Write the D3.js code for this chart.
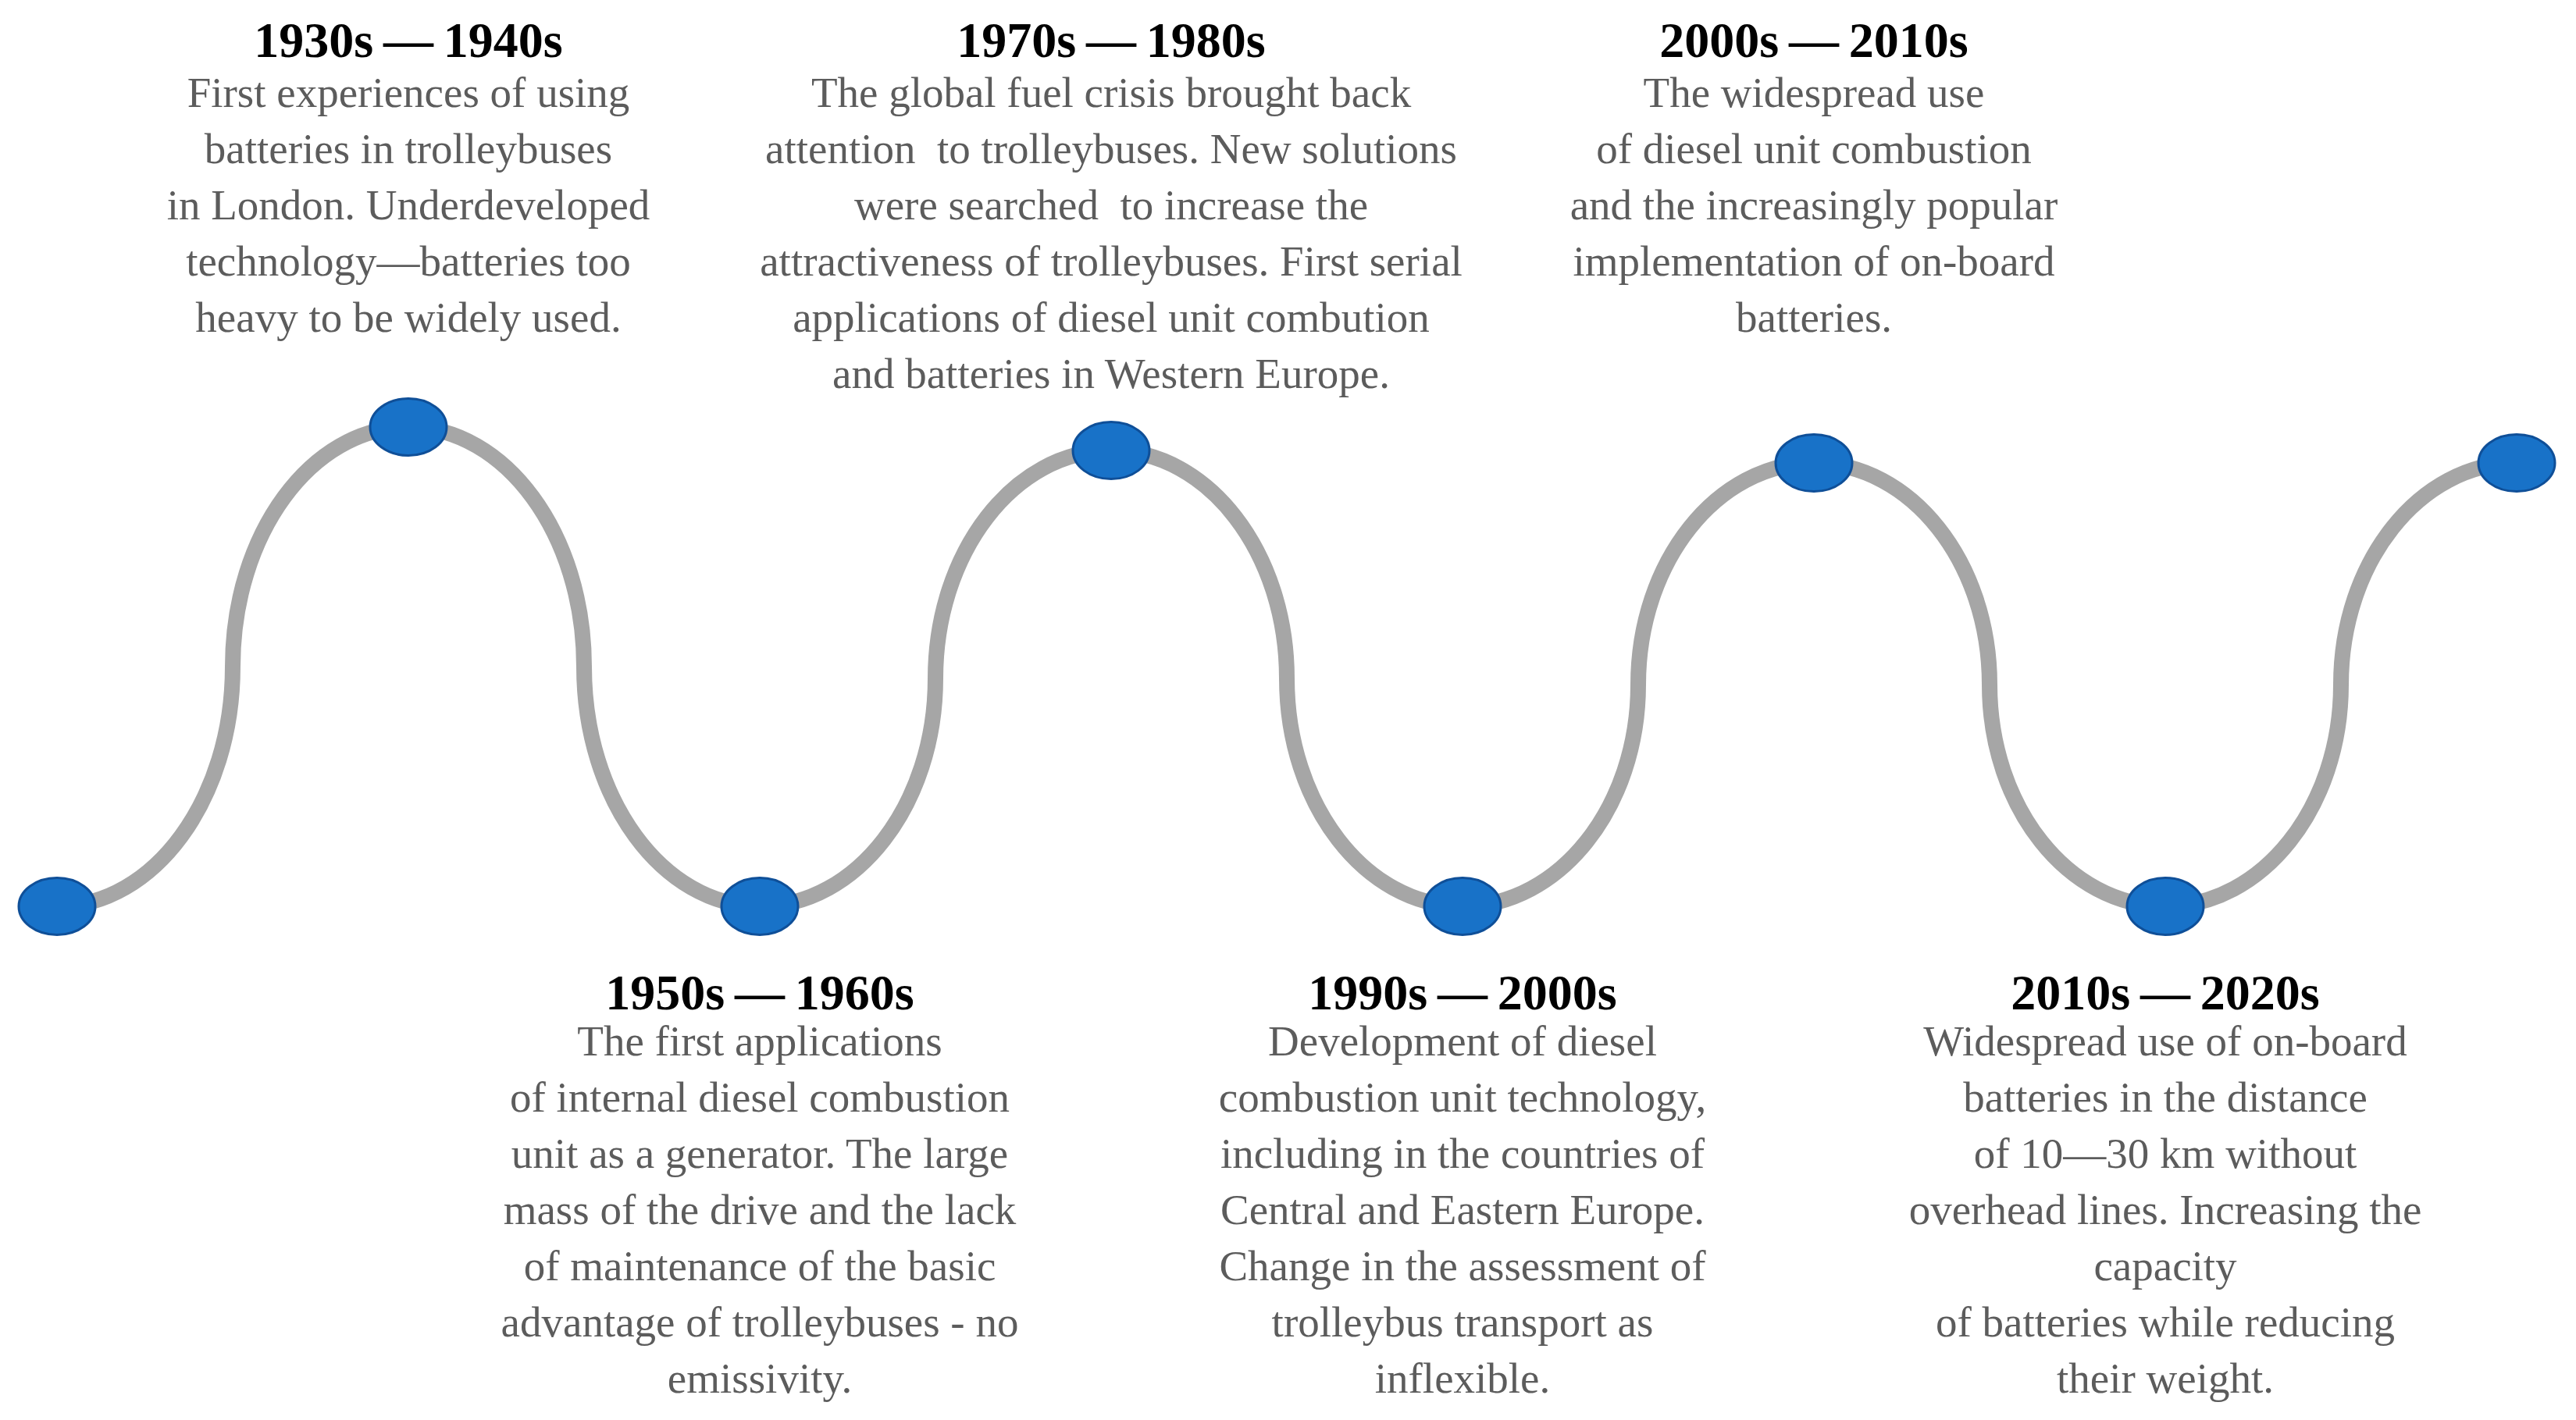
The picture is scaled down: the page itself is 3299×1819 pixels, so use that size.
<!DOCTYPE html>
<html>
<head>
<meta charset="utf-8">
<script src="https://cdn.jsdelivr.net/npm/d3@7"></script>
<style>
  html, body { margin: 0; padding: 0; background: #fff; }
  svg { display: block; }
  .desc { white-space: pre; }
</style>
</head>
<body>
<div id="chart"></div>
<script>
// timeline nodes: index along the wave and height level (0 = bottom, 1 = highest crest)
const nodeIndex = [0, 1, 2, 3, 4, 5, 6, 7];
const nodeLevel = [0, 1, 0, 0.951, 0, 0.925, 0, 0.925];

// which node each period is attached to, and on which side of the wave
const periods = ["1930s\u2009\u2014\u20091940s", "1950s\u2009\u2014\u20091960s", "1970s\u2009\u2014\u20091980s", "1990s\u2009\u2014\u20092000s", "2000s\u2009\u2014\u20092010s", "2010s\u2009\u2014\u20092020s"];
const periodNode = [1, 2, 3, 4, 5, 6];
const periodSide = ["top", "bottom", "top", "bottom", "top", "bottom"];

const descriptions = [
  ["First experiences of using", "batteries in trolleybuses", "in London. Underdeveloped", "technology\u2014batteries too", "heavy to be widely used."],
  ["The first applications", "of internal diesel combustion", "unit as a generator. The large", "mass of the drive and the lack", "of maintenance of the basic", "advantage of trolleybuses - no", "emissivity."],
  ["The global fuel crisis brought back", "attention  to trolleybuses. New solutions", "were searched  to increase the", "attractiveness of trolleybuses. First serial", "applications of diesel unit combution", "and batteries in Western Europe."],
  ["Development of diesel", "combustion unit technology,", "including in the countries of", "Central and Eastern Europe.", "Change in the assessment of", "trolleybus transport as", "inflexible."],
  ["The widespread use", "of diesel unit combustion", "and the increasingly popular", "implementation of on-board", "batteries."],
  ["Widespread use of on-board", "batteries in the distance", "of 10\u201430 km without", "overhead lines. Increasing the", "capacity", "of batteries while reducing", "their weight."]
];

const width = 3299, height = 1819;
const fontFamily = "'Liberation Serif', 'Times New Roman', serif";

const svg = d3.select("#chart").append("svg")
  .attr("width", width)
  .attr("height", height)
  .attr("viewBox", [0, 0, width, height]);

svg.append("rect").attr("width", width).attr("height", height).attr("fill", "#fff");

const x = d3.scaleLinear().domain([0, 7]).range([73, 3223]);
const y = d3.scaleLinear().domain([0, 1]).range([1161, 547]);

const nodes = nodeIndex.map((d, i) => ({ x: x(d), y: y(nodeLevel[i]) }));

// wave: each step is two quarter-ellipses, flat at the nodes and vertical halfway
const k = 0.5523;
const path = d3.path();
path.moveTo(nodes[0].x, nodes[0].y);
for (let i = 0; i < nodes.length - 1; i++) {
  const a = nodes[i], b = nodes[i + 1];
  const mx = (a.x + b.x) / 2, my = (a.y + b.y) / 2;
  path.bezierCurveTo(a.x + k * (mx - a.x), a.y, mx, my + k * (a.y - my), mx, my);
  path.bezierCurveTo(mx, my + k * (b.y - my), b.x - k * (b.x - mx), b.y, b.x, b.y);
}

svg.append("path")
  .attr("d", path.toString())
  .attr("fill", "none")
  .attr("stroke", "#a6a6a6")
  .attr("stroke-width", 20);

svg.selectAll("ellipse.node")
  .data(nodes)
  .enter()
  .append("ellipse")
  .attr("class", "node")
  .attr("cx", d => d.x)
  .attr("cy", d => d.y)
  .attr("rx", 49)
  .attr("ry", 36.5)
  .attr("fill", "#1872c8")
  .attr("stroke", "#0f4f98")
  .attr("stroke-width", 3);

// labels
const lineGap = 72;
const labels = svg.selectAll("g.label")
  .data(periods)
  .enter()
  .append("g")
  .attr("class", "label")
  .attr("transform", (d, i) => `translate(${nodes[periodNode[i]].x},0)`);

labels.append("text")
  .attr("text-anchor", "middle")
  .attr("y", (d, i) => periodSide[i] === "top" ? 73 : 1293)
  .style("font-family", fontFamily)
  .style("font-weight", "bold")
  .style("font-size", "64px")
  .attr("fill", "#000")
  .text(d => d);

labels.each(function (d, i) {
  const y0 = periodSide[i] === "top" ? 137 : 1352;
  d3.select(this).selectAll("text.desc")
    .data(descriptions[i])
    .enter()
    .append("text")
    .attr("class", "desc")
    .attr("text-anchor", "middle")
    .attr("y", (t, j) => y0 + j * lineGap)
    .style("font-family", fontFamily)
    .style("font-size", "55px")
    .attr("fill", "#5c5c5c")
    .text(t => t);
});
</script>
</body>
</html>
